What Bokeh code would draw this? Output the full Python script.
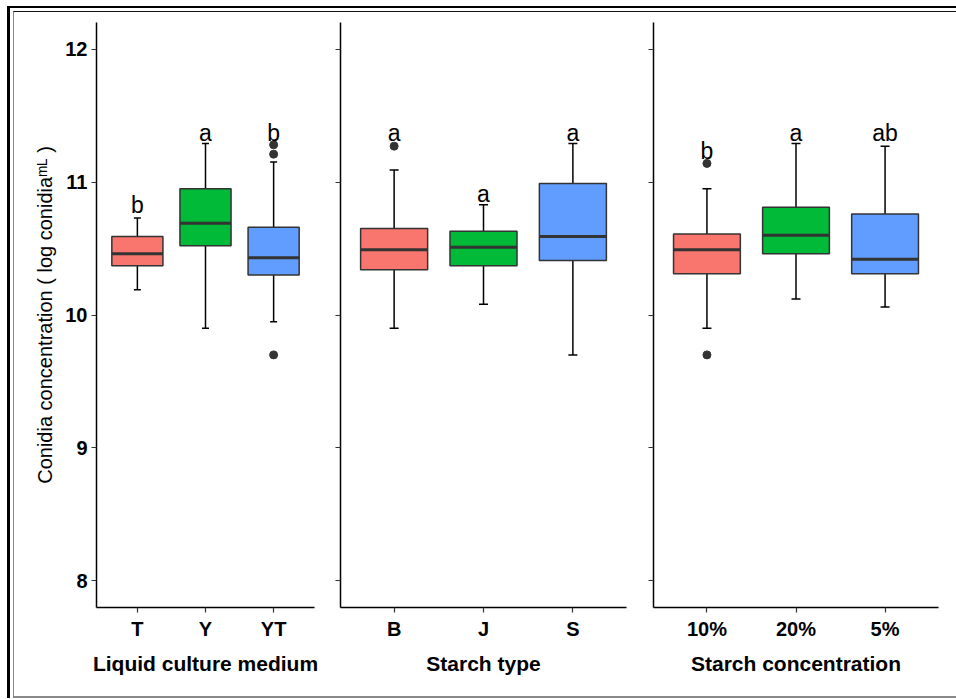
from bokeh.plotting import figure
from bokeh.models import Range1d, FactorRange, ColumnDataSource, Whisker, TeeHead, FixedTicker
from bokeh.layouts import row, column
from bokeh.embed import file_html
from bokeh.resources import INLINE
from bokeh.core.properties import value

FONT = "Liberation Sans"
COLORS = ["#F8766D", "#00BA38", "#619CFF"]

# ---- Liquid culture medium ----
cats1 = ["T", "Y", "YT"]
lower1 = [10.19, 9.90, 9.95]
q1_1 = [10.37, 10.52, 10.30]
med1 = [10.46, 10.69, 10.43]
q3_1 = [10.59, 10.95, 10.66]
upper1 = [10.73, 11.29, 11.15]
out_x1 = ["YT", "YT", "YT"]
out_y1 = [11.28, 11.21, 9.70]
letters1 = ["b", "a", "b"]
letter_y1 = [10.83, 11.37, 11.37]

# ---- Starch type ----
cats2 = ["B", "J", "S"]
lower2 = [9.90, 10.08, 9.70]
q1_2 = [10.34, 10.37, 10.41]
med2 = [10.49, 10.51, 10.59]
q3_2 = [10.65, 10.63, 10.99]
upper2 = [11.09, 10.83, 11.29]
out_x2 = ["B"]
out_y2 = [11.27]
letters2 = ["a", "a", "a"]
letter_y2 = [11.37, 10.91, 11.37]

# ---- Starch concentration ----
cats3 = ["10%", "20%", "5%"]
lower3 = [9.90, 10.12, 10.06]
q1_3 = [10.31, 10.46, 10.31]
med3 = [10.49, 10.60, 10.42]
q3_3 = [10.61, 10.81, 10.76]
upper3 = [10.95, 11.29, 11.27]
out_x3 = ["10%", "10%"]
out_y3 = [11.14, 9.70]
letters3 = ["b", "a", "ab"]
letter_y3 = [11.23, 11.37, 11.37]

y_ticks = [8, 9, 10, 11, 12]
y_label = "Conidia concentration ( log conidia\u1d50\u1d38 )"


def make_panel(cats, lower, q1, med, q3, upper, out_x, out_y, letters, letter_y,
               xlabel, first, frame_w, left_b, right_b, cap):
    p = figure(
        x_range=FactorRange(factors=cats, range_padding=0.2 / 3),
        y_range=Range1d(7.8, 12.2),
        frame_width=frame_w, frame_height=585,
        min_border_left=left_b, min_border_right=right_b,
        min_border_top=10, min_border_bottom=89,
        output_backend="svg", toolbar_location=None,
        outline_line_color=None,
        background_fill_color="white", border_fill_color="white",
    )
    src = ColumnDataSource(dict(cat=cats, lower=lower, q1=q1, med=med, q3=q3,
                                upper=upper, color=COLORS, lab=letters, ly=letter_y))
    p.vbar(x="cat", width=0.75, top="q3", bottom="q1", source=src,
           fill_color="color", line_color="#333333", line_width=1.5)
    p.vbar(x="cat", width=0.75, top="med", bottom="med", source=src,
           fill_color=None, line_color="#333333", line_width=3)
    w = Whisker(source=src, base="cat", upper="upper", lower="lower",
                dimension="height", line_color="black", line_width=1.5,
                upper_head=TeeHead(size=cap, line_color="black", line_width=1.5),
                lower_head=TeeHead(size=cap, line_color="black", line_width=1.5))
    p.add_layout(w)
    p.scatter(x=out_x, y=out_y, size=8, color="#333333")
    p.text(x="cat", y="ly", text="lab", source=src, text_align="center",
           text_baseline="alphabetic", text_font=value(FONT),
           text_font_size="23px", text_color="black")

    p.xgrid.visible = False
    p.ygrid.visible = False
    for ax in (p.xaxis[0], p.yaxis[0]):
        ax.axis_line_color = "black"
        ax.axis_line_width = 1.5
        ax.major_tick_line_color = "#333333"
        ax.major_tick_line_width = 1.2
        ax.major_tick_out = 5
        ax.major_tick_in = 0
        ax.minor_tick_line_color = None
        ax.major_label_text_font = FONT
        ax.major_label_text_font_style = "bold"
        ax.major_label_text_font_size = "20px"
        ax.major_label_text_color = "black"
        ax.major_label_standoff = 5
    p.yaxis.ticker = FixedTicker(ticks=y_ticks)
    p.yaxis.major_label_standoff = 4
    p.xaxis.axis_label = xlabel
    p.xaxis.axis_label_text_font = FONT
    p.xaxis.axis_label_text_font_style = "bold"
    p.xaxis.axis_label_text_font_size = "21px"
    p.xaxis.axis_label_text_color = "black"
    p.xaxis.axis_label_standoff = 9
    if first:
        p.yaxis.axis_label = y_label
        p.yaxis.axis_label_text_font = FONT
        p.yaxis.axis_label_text_font_style = "normal"
        p.yaxis.axis_label_text_font_size = "20px"
        p.yaxis.axis_label_text_color = "black"
        p.yaxis.axis_label_standoff = 6
    else:
        p.yaxis.major_label_overrides = {t: "" for t in y_ticks}
        p.yaxis.major_label_text_font_size = "0px"
        p.yaxis.major_label_standoff = 0
    return p


p1 = make_panel(cats1, lower1, q1_1, med1, q3_1, upper1, out_x1, out_y1, letters1, letter_y1,
                "Liquid culture medium", True, 218, 82, 6, 7)
p2 = make_panel(cats2, lower2, q1_2, med2, q3_2, upper2, out_x2, out_y2, letters2, letter_y2,
                "Starch type", False, 286, 20, 7, 9)
p3 = make_panel(cats3, lower3, q1_3, med3, q3_3, upper3, out_x3, out_y3, letters3, letter_y3,
                "Starch concentration", False, 285, 20, 18, 9)

inner = row(p1, p2, p3, styles={"border-top": "1px solid #111111",
                                "border-left": "1px solid #888888",
                                "border-bottom": "2px solid #888888",
                                "border-right": "none"})
layout = column(inner, styles={"border-top": "2px solid black",
                               "border-left": "3px solid black",
                               "border-right": "none",
                               "padding-top": "3px", "padding-left": "3px",
                               "margin-top": "6px", "margin-left": "7px"})

open("out.html", "w").write(file_html(layout, INLINE))
